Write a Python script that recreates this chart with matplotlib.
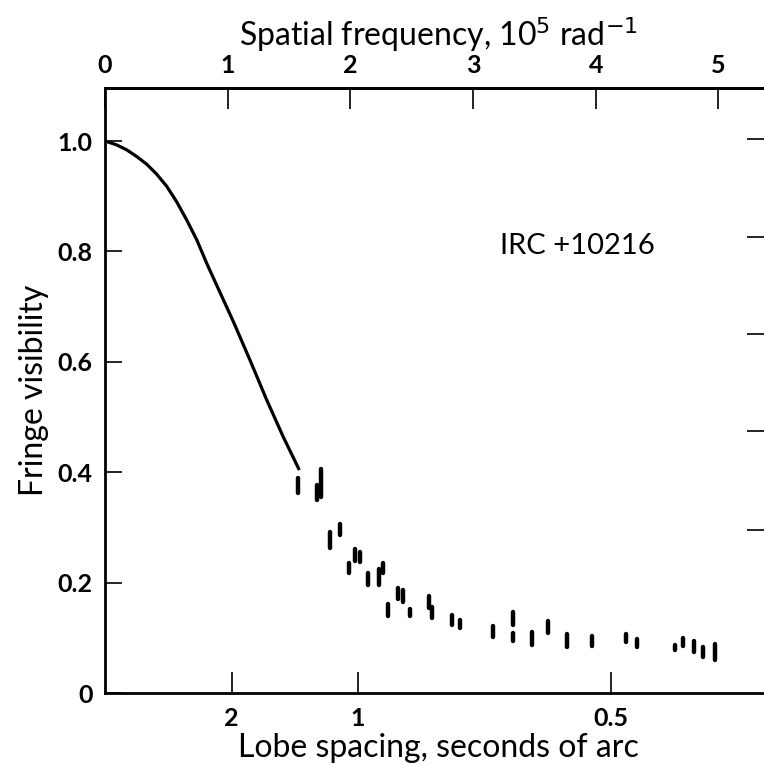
import matplotlib.pyplot as plt

# Model curve, spatial frequency in 1e5 rad^-1
curve_freq = [0.0, 0.095, 0.177, 0.258, 0.340, 0.421, 0.503, 0.584, 0.666, 0.748,
              0.830, 0.910, 1.046, 1.182, 1.318, 1.453, 1.584]
curve_vis = [1.0, 0.993, 0.984, 0.972, 0.958, 0.940, 0.918, 0.890, 0.857, 0.821,
             0.778, 0.739, 0.673, 0.603, 0.531, 0.464, 0.404]

# Measured visibilities (vertical bars)
obs_freq = [1.575, 1.758, 1.725, 1.834, 1.915, 1.991, 2.035, 2.078, 2.146, 2.236, 2.268,
            2.304, 2.390, 2.426, 2.488, 2.641, 2.668, 2.826, 2.893, 3.165, 3.328, 3.323,
            3.480, 3.613, 3.768, 3.972, 4.244, 4.336, 4.643, 4.708, 4.800, 4.878, 4.971]
obs_vis = [0.376, 0.380, 0.363, 0.277, 0.296, 0.226, 0.250, 0.246, 0.207, 0.210, 0.226,
           0.150, 0.180, 0.176, 0.146, 0.165, 0.146, 0.132, 0.125, 0.111, 0.135, 0.102,
           0.099, 0.120, 0.095, 0.094, 0.099, 0.091, 0.082, 0.093, 0.084, 0.074, 0.074]
obs_err = [0.014, 0.025, 0.014, 0.015, 0.010, 0.009, 0.011, 0.009, 0.011, 0.015, 0.009,
           0.011, 0.010, 0.011, 0.007, 0.011, 0.010, 0.009, 0.007, 0.010, 0.012, 0.007,
           0.012, 0.011, 0.012, 0.009, 0.007, 0.007, 0.005, 0.007, 0.010, 0.009, 0.015]

freq_ticks = [0, 1, 2, 3, 4, 5]
lobe_ticks = [2, 1, 0.5]
lobe_labels = ["2", "1", "0.5"]
vis_ticks = [0, 0.2, 0.4, 0.6, 0.8, 1.0]
vis_labels = ["0", "0.2", "0.4", "0.6", "0.8", "1.0"]
right_ticks = [1.004, 0.826, 0.650, 0.474, 0.295]

plt.rcParams['font.family'] = ['Lato', 'DejaVu Sans']

fig = plt.figure(figsize=(7.64, 7.66), dpi=100)
ax = fig.add_axes([0.1374, 0.0953, 0.873, 0.7898])

ax.plot(curve_freq, curve_vis, color='black', lw=2.3, solid_capstyle='butt')
lo = [v - e for v, e in zip(obs_vis, obs_err)]
hi = [v + e for v, e in zip(obs_vis, obs_err)]
ax.vlines(obs_freq, lo, hi, color='black', lw=3.2, capstyle='round')

ax.set_xlim(0, 5.436)
ax.set_ylim(0, 1.096)

# bottom axis: lobe spacing in arcsec = 2.06265 / (freq in 1e5 rad^-1)
ax.set_xticks([2.06265 / s for s in lobe_ticks])
ax.set_xticklabels(lobe_labels, fontweight='bold')
ax.set_yticks(vis_ticks)
ax.set_yticklabels(vis_labels, fontweight='bold')
ax.tick_params(axis='y', direction='in', length=12, width=1.2, labelsize=18, pad=9)
ax.tick_params(axis='x', direction='in', length=15, width=1.2, labelsize=18, pad=10)
ax.set_xlabel("Lobe spacing, seconds of arc", fontsize=23, labelpad=2)
ax.set_ylabel("Fringe visibility", fontsize=23, labelpad=6)

top = ax.secondary_xaxis('top')
top.set_xticks(freq_ticks)
top.set_xticklabels([str(t) for t in freq_ticks], fontweight='bold')
top.tick_params(direction='in', length=15, width=1.2, labelsize=18, pad=8)
top.set_xlabel(r"Spatial frequency, 10$^5$ rad$^{-1}$", fontsize=23, labelpad=6)

right = ax.secondary_yaxis('right')
right.set_yticks(right_ticks)
right.set_yticklabels([])
right.tick_params(direction='in', length=18, width=1.2)
right.spines['right'].set_visible(False)
ax.spines['right'].set_visible(False)

for name in ['left', 'bottom', 'top']:
    ax.spines[name].set_linewidth(2)
top.spines['top'].set_linewidth(2)

ax.text(3.85, 0.81, "IRC +10216", fontsize=21, ha='center', va='center')

fig.savefig("out.png", dpi=100)
